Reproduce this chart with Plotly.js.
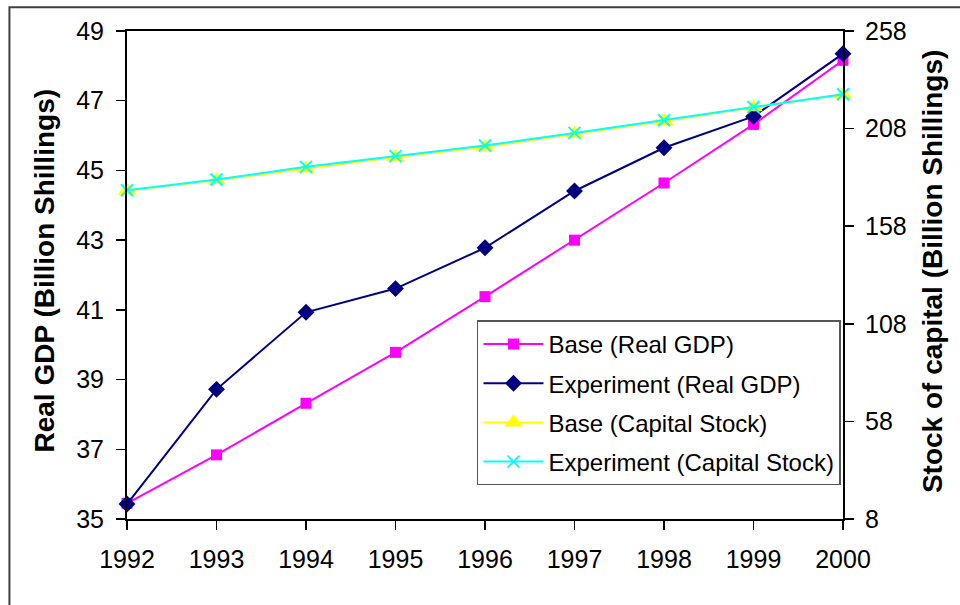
<!DOCTYPE html>
<html>
<head>
<meta charset="utf-8">
<script src="https://cdn.plot.ly/plotly-3.0.1.min.js"></script>
<style>html,body{margin:0;padding:0;background:#fff;}#chart{width:960px;height:605px;}</style>
</head>
<body>
<div id="chart"></div>
<script>
const years = [1992, 1993, 1994, 1995, 1996, 1997, 1998, 1999, 2000];
const baseGDP = [35.45, 36.84, 38.32, 39.78, 41.38, 43.0, 44.64, 46.32, 48.16];
const expGDP = [35.43, 38.72, 40.93, 41.61, 42.78, 44.41, 45.65, 46.55, 48.35];
const baseCapital = [176.2, 181.6, 187.6, 193.4, 198.7, 205.3, 211.9, 218.9, 225.5];
const expCapital = [176.4, 181.9, 188.4, 193.9, 199.3, 205.8, 212.3, 219.1, 225.6];
const seriesNames = ['Base (Real GDP)', 'Experiment (Real GDP)', 'Base (Capital Stock)', 'Experiment (Capital Stock)'];
const leftTitle = 'Real GDP (Billion Shillings)';
const rightTitle = 'Stock of capital (Billion Shillings)';

const FONT = '"Liberation Sans", Arial, sans-serif';

const traces = [
  {x: years, y: baseGDP, name: seriesNames[0], type: 'scatter', mode: 'lines+markers', cliponaxis: false,
   line: {color: '#FF00FF', width: 2}, marker: {symbol: 'square', size: 11, color: '#FF00FF'}, legendgroup: 'a'},
  {x: years, y: expGDP, name: seriesNames[1], type: 'scatter', mode: 'lines+markers', cliponaxis: false,
   line: {color: '#000080', width: 2}, marker: {symbol: 'diamond', size: 13, color: '#000080'}, legendgroup: 'b'},
  {x: years, y: baseCapital, name: seriesNames[2], yaxis: 'y2', type: 'scatter', mode: 'lines+markers', cliponaxis: false,
   line: {color: '#FFFF00', width: 2}, marker: {symbol: 'triangle-up', size: 16, color: '#FFFF00'}, legendgroup: 'c'},
  {x: years, y: expCapital, name: seriesNames[3], yaxis: 'y2', type: 'scatter', mode: 'lines+markers', cliponaxis: false,
   line: {color: '#00FFFF', width: 2}, marker: {symbol: 'x-thin', size: 12, color: '#00FFFF', line: {color: '#00FFFF', width: 2}}, legendgroup: 'd'}
];

const tickFont = {family: FONT, size: 25, color: '#000'};

const layout = {
  width: 960, height: 605,
  margin: {l: 127, r: 117, t: 31, b: 86},
  paper_bgcolor: '#fff', plot_bgcolor: '#fff',
  font: {family: FONT, color: '#000'},
  showlegend: true,
  xaxis: {range: [1992, 2000], dtick: 1, tick0: 1992, showgrid: false, zeroline: false,
          showline: true, linecolor: '#000', linewidth: 2, mirror: true,
          ticks: 'outside', ticklen: 9, tickwidth: 1.5, tickcolor: '#000', tickfont: tickFont,
          ticklabelstandoff: 8},
  xaxis2: {overlaying: 'x', anchor: 'y', side: 'bottom', range: [1992, 2000], dtick: 1, tick0: 1992,
           showgrid: false, zeroline: false, showline: false, showticklabels: false,
           ticks: 'inside', ticklen: 8, tickwidth: 1.5, tickcolor: '#000'},
  yaxis: {range: [35, 49], dtick: 2, tick0: 35, showgrid: false, zeroline: false,
          showline: true, linecolor: '#000', linewidth: 2, mirror: true,
          ticks: 'outside', ticklen: 9, tickwidth: 1.5, tickcolor: '#000', tickfont: tickFont,
          ticklabelstandoff: 7},
  yaxis2: {overlaying: 'y', side: 'right', anchor: 'x', range: [8, 258], dtick: 50, tick0: 8,
           showgrid: false, zeroline: false, showline: true, linecolor: '#000', linewidth: 2,
           ticks: 'outside', ticklen: 9, tickwidth: 1.5, tickcolor: '#000', tickfont: tickFont,
           ticklabelstandoff: 6},
  yaxis3: {overlaying: 'y', side: 'left', anchor: 'x', range: [35, 49], dtick: 2, tick0: 35,
           showgrid: false, zeroline: false, showline: false, showticklabels: false,
           ticks: 'inside', ticklen: 8, tickwidth: 1.5, tickcolor: '#000'},
  yaxis4: {overlaying: 'y', side: 'right', anchor: 'x', range: [8, 258], dtick: 50, tick0: 8,
           showgrid: false, zeroline: false, showline: false, showticklabels: false,
           ticks: 'inside', ticklen: 8, tickwidth: 1.5, tickcolor: '#000'},
  legend: {x: 0.4888, y: 0.407, xanchor: 'left', yanchor: 'top',
           bgcolor: '#fff', bordercolor: '#555', borderwidth: 1.5,
           font: {family: FONT, size: 24, color: '#000'},
           traceorder: 'grouped', tracegroupgap: 5, itemwidth: 60},
  annotations: [
    {text: leftTitle, xref: 'paper', yref: 'paper', x: -0.1154, y: 0.51, xanchor: 'center', yanchor: 'middle',
     textangle: -90, showarrow: false, font: {family: FONT, size: 28, color: '#000', weight: 'bold'}},
    {text: rightTitle, xref: 'paper', yref: 'paper', x: 1.125, y: 0.507, xanchor: 'center', yanchor: 'middle',
     textangle: -90, showarrow: false, font: {family: FONT, size: 28, color: '#000', weight: 'bold'}}
  ],
  shapes: [
    {type: 'rect', xref: 'paper', yref: 'paper', x0: -0.1642, y0: -0.3, x1: 1.3, y1: 1.0485,
     line: {color: '#404040', width: 2}, fillcolor: 'rgba(0,0,0,0)', layer: 'above'}
  ]
};

Plotly.newPlot('chart', traces, layout, {displayModeBar: false, staticPlot: true});
</script>
</body>
</html>
